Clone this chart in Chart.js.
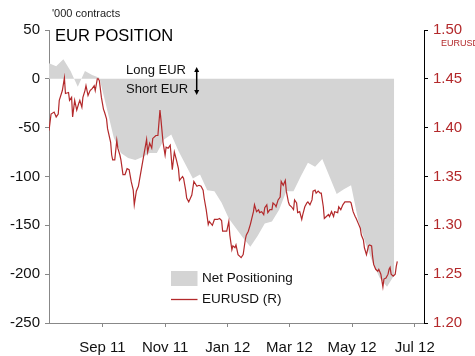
<!DOCTYPE html>
<html>
<head>
<meta charset="utf-8">
<script src="https://cdn.jsdelivr.net/npm/chart.js@4/dist/chart.umd.min.js"></script>
<style>
html,body{margin:0;padding:0;background:#fff;}
#wrap{width:475px;height:356px;}
</style>
</head>
<body>
<div id="wrap"><canvas id="c" width="475" height="356"></canvas></div>
<script>
// x values are days counted from 1 Sep 2011
const xTickDays = [0, 61, 122, 182, 243, 304];
const xTickLabels = ['Sep 11', 'Nov 11', 'Jan 12', 'Mar 12', 'May 12', 'Jul 12'];

// Weekly net positioning ('000 contracts)
const netDays = [-52,-45,-38,-31,-24,-17,-10,-3,4,11,18,25,32,39,46,53,60,67,74,81,88,95,102,109,116,123,130,137,144,151,158,165,172,179,186,193,200,207,214,221,228,235,242,249,256,263,270,277,284];
const netValues = [16,13,20,8,-8,8,4,1,-29,-60,-76,-81,-83,-80,-76,-76,-62,-57,-74,-88,-102,-98,-114,-115,-127,-143,-153,-163,-172,-161,-148,-146,-134,-115,-115,-100,-86,-90,-82,-100,-118,-113,-109,-145,-168,-188,-204,-213,-201];

// EURUSD (right axis)
const fxDays = [-52,-50,-47,-45,-43,-42,-39,-37,-36,-33,-32,-30,-29,-27,-25,-23,-22,-20,-19,-17,-16,-14,-12,-10,-8,-7,-5,-4,-3,
-1,1,2,4,5,8,9,10,12,14,15,17,18,20,22,24,26,28,30,31,33,35,36,38,40,43,44,46,48,49,52,54,56,57,59,61,62,64,66,68,70,72,74,75,78,79,81,82,84,87,89,92,94,96,98,99,101,103,104,107,109,112,114,116,117,121,123,124,126,127,129,130,132,134,135,137,139,140,142,144,147,148,150,152,153,155,157,158,160,161,163,165,166,168,169,171,173,174,176,178,179,181,182,184,186,187,189,190,192,194,195,197,199,200,202,204,205,207,208,210,212,213,215,216,218,220,221,223,225,226,229,230,232,234,236,239,241,242,244,246,247,249,251,252,254,255,257,259,260,262,263,264,266,268,269,271,273,274,276,278,279,280,281,283,285,286,287];
const fxValues = [1.397,1.414,1.416,1.411,1.414,1.428,1.438,1.451,1.435,1.436,1.428,1.431,1.411,1.428,1.418,1.425,1.428,1.421,1.431,1.438,1.443,1.433,1.438,1.440,1.443,1.438,1.450,1.450,1.448,
1.431,1.419,1.416,1.409,1.399,1.385,1.372,1.367,1.367,1.387,1.379,1.372,1.367,1.352,1.352,1.358,1.357,1.345,1.336,1.321,1.335,1.340,1.346,1.358,1.370,1.388,1.375,1.384,1.379,1.389,1.392,1.392,1.418,1.408,1.385,1.372,1.380,1.379,1.382,1.357,1.375,1.367,1.358,1.346,1.350,1.348,1.336,1.328,1.324,1.331,1.345,1.340,1.341,1.340,1.336,1.328,1.316,1.301,1.304,1.300,1.306,1.306,1.307,1.305,1.294,1.294,1.304,1.290,1.275,1.279,1.277,1.280,1.270,1.268,1.267,1.270,1.285,1.290,1.294,1.301,1.314,1.321,1.314,1.316,1.313,1.314,1.311,1.318,1.321,1.313,1.316,1.316,1.323,1.321,1.319,1.326,1.329,1.345,1.341,1.346,1.335,1.324,1.321,1.319,1.316,1.326,1.323,1.313,1.314,1.306,1.311,1.319,1.323,1.324,1.321,1.326,1.335,1.336,1.333,1.335,1.333,1.333,1.319,1.307,1.309,1.311,1.309,1.314,1.309,1.314,1.313,1.319,1.316,1.321,1.324,1.324,1.324,1.323,1.314,1.309,1.307,1.302,1.297,1.290,1.285,1.277,1.270,1.279,1.280,1.279,1.268,1.260,1.255,1.253,1.255,1.250,1.237,1.245,1.246,1.250,1.255,1.257,1.250,1.248,1.250,1.258,1.263];

const netData = netDays.map((d, i) => ({x: d, y: netValues[i]}));
const fxData = fxDays.map((d, i) => ({x: d, y: fxValues[i]}));

const RED = '#b3292b';
const FONT = "'Liberation Sans', Arial, sans-serif";
Chart.defaults.font.family = FONT;

const annotate = {
  id: 'annotate',
  afterDraw(chart) {
    const ctx = chart.ctx;
    ctx.save();
    ctx.textBaseline = 'middle';
    ctx.textAlign = 'left';
    ctx.fillStyle = '#222';
    ctx.font = "11px " + FONT;
    ctx.fillText("'000 contracts", 52, 14);
    ctx.fillStyle = '#000';
    ctx.font = "16.5px " + FONT;
    ctx.fillText('EUR POSITION', 55, 36);
    ctx.font = "13px " + FONT;
    ctx.fillStyle = '#111';
    ctx.fillText('Long EUR', 126, 70);
    ctx.fillText('Short EUR', 126, 89);
    // double arrow
    ctx.strokeStyle = '#000';
    ctx.fillStyle = '#000';
    ctx.lineWidth = 1.5;
    ctx.beginPath(); ctx.moveTo(196.7, 70); ctx.lineTo(196.7, 92); ctx.stroke();
    ctx.beginPath(); ctx.moveTo(196.7, 67); ctx.lineTo(194.2, 72); ctx.lineTo(199.2, 72); ctx.closePath(); ctx.fill();
    ctx.beginPath(); ctx.moveTo(196.7, 95); ctx.lineTo(194.2, 90); ctx.lineTo(199.2, 90); ctx.closePath(); ctx.fill();
    // right axis unit
    ctx.fillStyle = RED;
    ctx.font = "9px " + FONT;
    ctx.fillText('EURUSD', 441, 44);
    // legend
    ctx.fillStyle = '#d4d4d4';
    ctx.fillRect(171, 271, 26.5, 15);
    ctx.strokeStyle = RED;
    ctx.lineWidth = 1.3;
    ctx.beginPath(); ctx.moveTo(171, 299.5); ctx.lineTo(197.5, 299.5); ctx.stroke();
    ctx.fillStyle = '#111';
    ctx.font = "13.5px " + FONT;
    ctx.fillText('Net Positioning', 202, 278.5);
    ctx.fillText('EURUSD (R)', 202, 299.5);
    ctx.restore();
  }
};

new Chart(document.getElementById('c'), {
  data: {
    datasets: [
      {
        type: 'line', label: 'EURUSD (R)', data: fxData, yAxisID: 'y1',
        borderColor: RED, borderWidth: 1.2, pointRadius: 0, tension: 0, fill: false, order: 0
      },
      {
        type: 'line', label: 'Net Positioning', data: netData, yAxisID: 'y',
        borderWidth: 0, borderColor: 'rgba(0,0,0,0)', backgroundColor: '#d4d4d4',
        pointRadius: 0, tension: 0, fill: 'origin', order: 1
      }
    ]
  },
  plugins: [annotate],
  options: {
    responsive: false,
    animation: false,
    layout: { padding: { top: 30, left: 0, right: 0, bottom: 0 } },
    plugins: { legend: { display: false }, tooltip: { enabled: false } },
    scales: {
      x: {
        type: 'linear', min: -52, max: 313,
        afterBuildTicks: (s) => { s.ticks = xTickDays.map(v => ({ value: v })); },
        afterFit: (s) => { s.height = 33; },
        ticks: {
          autoSkip: false, maxRotation: 0, padding: 12, color: '#111',
          font: { size: 15 },
          callback: (v, i) => xTickLabels[i]
        },
        grid: { drawOnChartArea: false, drawTicks: true, tickLength: 4, color: '#888' },
        border: { display: true, color: '#888', width: 1 }
      },
      y: {
        position: 'left', min: -250, max: 50,
        afterFit: (s) => { s.width = 49; },
        ticks: { stepSize: 50, padding: 5, color: '#111', font: { size: 15 } },
        grid: { drawOnChartArea: false, drawTicks: true, tickLength: 4, color: '#888' },
        border: { display: true, color: '#888', width: 1 }
      },
      y1: {
        position: 'right', min: 1.2, max: 1.5,
        afterFit: (s) => { s.width = 51; },
        ticks: { stepSize: 0.05, padding: 5, color: RED, font: { size: 15 },
          callback: (v) => Number(v).toFixed(2) },
        grid: { drawOnChartArea: false, drawTicks: true, tickLength: 4, color: '#000' },
        border: { display: true, color: '#000', width: 1 }
      }
    }
  }
});
</script>
</body>
</html>
